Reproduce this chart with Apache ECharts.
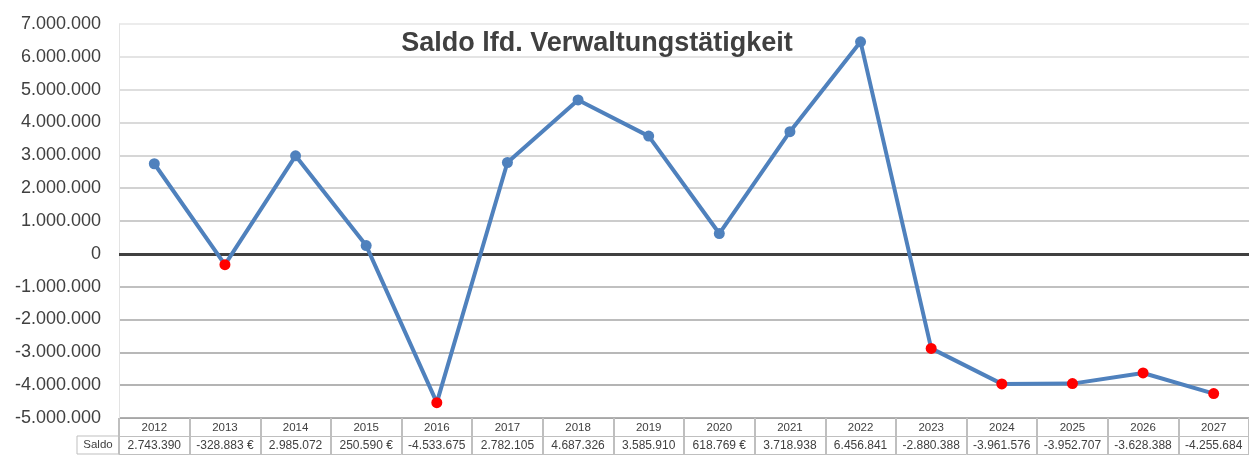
<!DOCTYPE html>
<html>
<head>
<meta charset="utf-8">
<script src="https://cdn.jsdelivr.net/npm/echarts@6/dist/echarts.min.js"></script>
<style>
  html, body { margin: 0; padding: 0; background: #fff; }
  #chart { width: 1249px; height: 457px; }
</style>
</head>
<body>
<div id="chart"></div>
<script>
// Jahre und Saldo-Werte
var years = ['2012', '2013', '2014', '2015', '2016', '2017', '2018', '2019',
  '2020', '2021', '2022', '2023', '2024', '2025', '2026', '2027'];
var saldo = [2743390, -328883, 2985072, 250590, -4533675, 2782105, 4687326, 3585910,
  618769, 3718938, 6456841, -2880388, -3961576, -3952707, -3628388, -4255684];
var rowLabel = 'Saldo';

var blue = '#4f81bd';
var red = '#ff0000';
var textCol = '#404040';
var font = 'Liberation Sans, Arial, sans-serif';

function fmt(v) {
  var s = Math.abs(Math.round(v)).toString().replace(/\B(?=(\d{3})+(?!\d))/g, '.');
  return (v < 0 ? '-' : '') + s;
}
function cellText(v) {
  // Excel zeigt die kleineren Werte mit Währungszeichen
  return Math.abs(v) < 1000000 ? fmt(v) + ' €' : fmt(v);
}

var chart = echarts.init(document.getElementById('chart'));

var option = {
  backgroundColor: '#fff',
  animation: false,
  title: {
    text: 'Saldo lfd. Verwaltungstätigkeit',
    left: 592,
    top: 25,
    textAlign: 'center',
    textStyle: { fontFamily: font, fontSize: 27, fontWeight: 'bold', color: textCol }
  },
  grid: { left: 119, right: 0, top: 24, bottom: 39 },
  xAxis: [{
    type: 'category',
    data: years,
    boundaryGap: true,
    position: 'bottom',
    axisLine: { show: true, onZero: false, lineStyle: { color: '#a6a6a6', width: 1 } },
    axisTick: { show: true, length: 36, inside: false, lineStyle: { color: '#bfbfbf', width: 2 } },
    axisLabel: { interval: 0, fontFamily: font, fontSize: 11.5, color: textCol, margin: 4 },
    splitLine: { show: false }
  }, {
    type: 'category',
    data: years,
    boundaryGap: true,
    position: 'bottom',
    offset: 18,
    axisLine: { show: true, onZero: false, lineStyle: { color: '#bfbfbf', width: 1 } },
    axisTick: { show: false },
    axisLabel: {
      interval: 0, hideOverlap: false,
      fontFamily: font, fontSize: 12, color: textCol, margin: 4,
      formatter: function (val, idx) { return cellText(saldo[idx]); }
    }
  }, {
    type: 'category',
    data: years,
    boundaryGap: true,
    position: 'bottom',
    offset: 36,
    axisLine: { show: true, onZero: false, lineStyle: { color: '#bfbfbf', width: 1 } },
    axisTick: { show: false },
    axisLabel: { show: false }
  }],
  yAxis: {
    type: 'value',
    min: -5000000,
    max: 7000000,
    interval: 1000000,
    axisLine: { show: true, lineStyle: { color: '#e3e3e3', width: 1 } },
    axisTick: { show: false },
    axisLabel: {
      fontFamily: font, fontSize: 18, color: textCol, margin: 18,
      formatter: function (v) { return fmt(v); }
    },
    splitLine: {
      show: true,
      lineStyle: {
        width: 2,
        color: ['#b0b0b0', '#b4b4b4', '#b8b8b8', '#bcbcbc', '#c0c0c0', '#404040',
          '#cccccc', '#d2d2d2', '#d6d6d6', '#dadada', '#dedede', '#e4e4e4', '#ececec']
      }
    }
  },
  series: [{
    type: 'line',
    data: saldo,
    xAxisIndex: 0,
    symbol: 'circle',
    symbolSize: 11,
    lineStyle: { color: blue, width: 4 },
    itemStyle: {
      color: function (p) { return p.value < 0 ? red : blue; }
    },
    z: 5,
    markLine: {
      silent: true,
      symbol: 'none',
      label: { show: false },
      lineStyle: { color: '#404040', width: 3, type: 'solid' },
      data: [{ yAxis: 0 }],
      z: 3
    }
  }],
  graphic: [{
    type: 'rect',
    shape: { x: 77, y: 436, width: 42, height: 18 },
    style: { fill: 'none', stroke: '#bfbfbf', lineWidth: 1 }
  }, {
    type: 'text',
    x: 98,
    y: 445,
    style: {
      text: rowLabel, fontFamily: font, fontSize: 11.5, fill: textCol,
      textAlign: 'center', textVerticalAlign: 'middle'
    }
  }]
};

chart.setOption(option);
</script>
</body>
</html>
